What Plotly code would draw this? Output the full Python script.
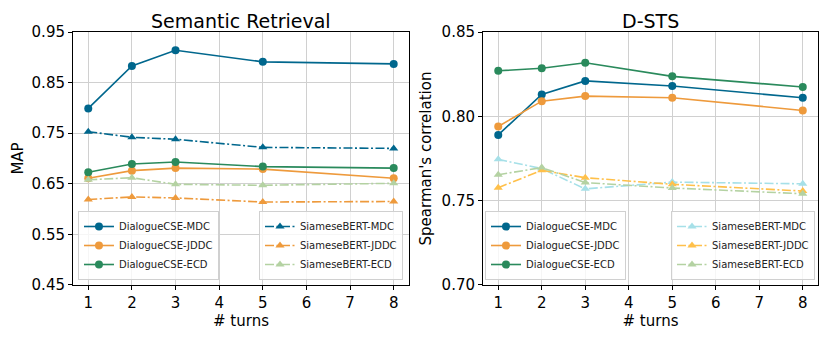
import plotly.graph_objects as go

turns = [1, 2, 3, 5, 8]

# Semantic Retrieval (MAP)
sr_dcse_mdc = [0.799, 0.883, 0.914, 0.891, 0.887]
sr_dcse_jddc = [0.661, 0.676, 0.681, 0.679, 0.661]
sr_dcse_ecd = [0.673, 0.689, 0.693, 0.684, 0.681]
sr_sbert_mdc = [0.753, 0.742, 0.738, 0.722, 0.720]
sr_sbert_jddc = [0.619, 0.624, 0.622, 0.614, 0.615]
sr_sbert_ecd = [0.658, 0.662, 0.649, 0.647, 0.651]

# D-STS (Spearman's correlation)
sts_dcse_mdc = [0.789, 0.813, 0.821, 0.818, 0.811]
sts_dcse_jddc = [0.794, 0.809, 0.812, 0.811, 0.8035]
sts_dcse_ecd = [0.827, 0.8285, 0.8318, 0.8237, 0.8174]
sts_sbert_mdc = [0.7745, 0.769, 0.757, 0.761, 0.760]
sts_sbert_jddc = [0.7577, 0.768, 0.7636, 0.7597, 0.7557]
sts_sbert_ecd = [0.7654, 0.7696, 0.7607, 0.7575, 0.7541]

C_MDC = "#00678d"
C_JDDC = "#ee9a3c"
C_ECD = "#2a8a5c"
C_SMDC = "#a6e0e8"
C_SJDDC = "#ffc04a"
C_SECD = "#b4d2a2"

DASHDOT = "9px,2.5px,2px,2.5px"

fig = go.Figure()


def add(x, y, name, color, solid, xa, ya, legend):
    fig.add_trace(go.Scatter(
        x=x, y=y, name=name, mode="lines+markers",
        xaxis=xa, yaxis=ya, legend=legend,
        line=dict(color=color, width=1.6, dash="solid" if solid else DASHDOT),
        marker=dict(symbol="circle" if solid else "triangle-up", size=8, color=color),
    ))


add(turns, sr_dcse_mdc, "DialogueCSE-MDC", C_MDC, True, "x", "y", "legend")
add(turns, sr_dcse_jddc, "DialogueCSE-JDDC", C_JDDC, True, "x", "y", "legend")
add(turns, sr_dcse_ecd, "DialogueCSE-ECD", C_ECD, True, "x", "y", "legend")
add(turns, sr_sbert_mdc, "SiameseBERT-MDC", C_MDC, False, "x", "y", "legend2")
add(turns, sr_sbert_jddc, "SiameseBERT-JDDC", C_JDDC, False, "x", "y", "legend2")
add(turns, sr_sbert_ecd, "SiameseBERT-ECD", C_SECD, False, "x", "y", "legend2")

add(turns, sts_dcse_mdc, "DialogueCSE-MDC", C_MDC, True, "x2", "y2", "legend3")
add(turns, sts_dcse_jddc, "DialogueCSE-JDDC", C_JDDC, True, "x2", "y2", "legend3")
add(turns, sts_dcse_ecd, "DialogueCSE-ECD", C_ECD, True, "x2", "y2", "legend3")
add(turns, sts_sbert_mdc, "SiameseBERT-MDC", C_SMDC, False, "x2", "y2", "legend4")
add(turns, sts_sbert_jddc, "SiameseBERT-JDDC", C_SJDDC, False, "x2", "y2", "legend4")
add(turns, sts_sbert_ecd, "SiameseBERT-ECD", C_SECD, False, "x2", "y2", "legend4")

axis_common = dict(
    showline=True, linecolor="black", linewidth=1, mirror=True,
    ticks="outside", ticklen=4, tickcolor="black", automargin=False,
    showgrid=True, gridcolor="#d0d0d0", gridwidth=1, zeroline=False,
    tickfont=dict(size=15, color="black"),
)
legend_common = dict(
    bgcolor="rgba(255,255,255,0.8)", bordercolor="#d0d0d0", borderwidth=1,
    font=dict(size=10, color="#222"), yanchor="bottom", y=0.2,
    tracegroupgap=0, itemwidth=30,
)

fig.update_layout(
    width=830, height=340,
    margin=dict(l=0, r=0, t=0, b=0, autoexpand=False),
    paper_bgcolor="white", plot_bgcolor="white",
    font=dict(family="DejaVu Sans", color="black"),
    xaxis=dict(domain=[0.0783, 0.4831], range=[0.65, 8.35], tickvals=list(range(1, 9)),
               title=dict(text="# turns", font=dict(size=15), standoff=2), **axis_common),
    yaxis=dict(domain=[0.1853, 0.9294], range=[0.45, 0.95],
               tickvals=[0.45, 0.55, 0.65, 0.75, 0.85, 0.95], tickformat=".2f",
               title=dict(text="MAP", font=dict(size=15), standoff=4), **axis_common),
    xaxis2=dict(domain=[0.5723, 0.9759], range=[0.65, 8.35], tickvals=list(range(1, 9)),
                anchor="y2",
                title=dict(text="# turns", font=dict(size=15), standoff=2), **axis_common),
    yaxis2=dict(domain=[0.1853, 0.9294], range=[0.70, 0.85], anchor="x2",
                tickvals=[0.70, 0.75, 0.80, 0.85], tickformat=".2f",
                title=dict(text="Spearman's correlation", font=dict(size=15), standoff=6),
                **axis_common),
    legend=dict(x=0.0843, xanchor="left", **legend_common),
    legend2=dict(x=0.4759, xanchor="right", **legend_common),
    legend3=dict(x=0.5747, xanchor="left", **legend_common),
    legend4=dict(x=0.9723, xanchor="right", **legend_common),
    annotations=[
        dict(text="Semantic Retrieval", x=(0.0783 + 0.4831) / 2, y=0.9632, xref="paper",
             yref="paper", xanchor="center", yanchor="middle", showarrow=False,
             borderpad=0, font=dict(size=19)),
        dict(text="D-STS", x=(0.5723 + 0.9759) / 2, y=0.9632, xref="paper",
             yref="paper", xanchor="center", yanchor="middle", showarrow=False,
             borderpad=0, font=dict(size=19)),
    ],
)

fig.write_html("out.html")
